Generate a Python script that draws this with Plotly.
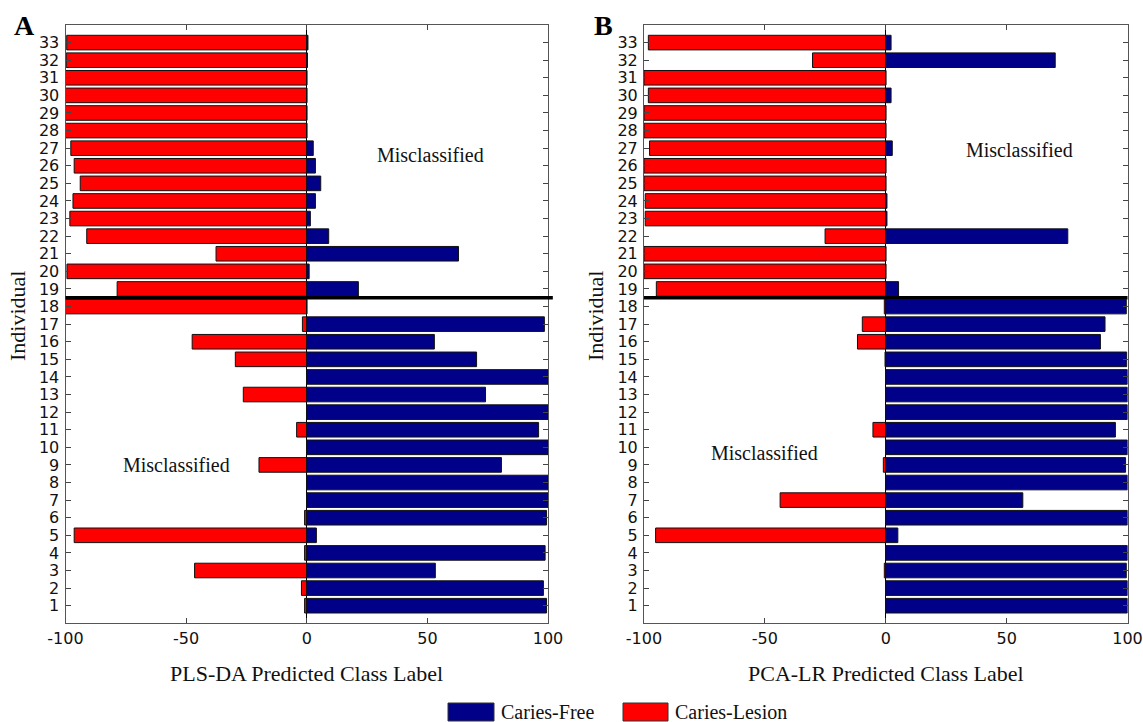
import plotly.graph_objects as go

individuals = list(range(1, 34))

plsda_free = [99.4, 98.1, 53.3, 98.8, 4.0, 99.4, 100, 100, 80.7, 100, 96.1, 100, 74.1, 100, 70.4, 52.9, 98.5,
              0, 21.4, 1.0, 62.9, 9.1, 1.5, 3.6, 5.8, 3.6, 2.7, 0, 0, 0, 0, 0.3, 0.5]
plsda_lesion = [-0.9, -2.2, -46.5, -0.9, -96.4, -0.9, 0, 0, -19.8, 0, -4.2, 0, -26.3, 0, -29.6, -47.5, -1.8,
                -100, -78.6, -99.4, -37.6, -91.2, -98.2, -96.9, -93.9, -96.4, -97.8, -100, -100, -100, -100, -99.7, -99.5]

pcalr_free = [100, 100, 99.5, 100, 5.0, 100, 56.7, 100, 99.2, 100, 95.0, 100, 100, 100, 99.7, 88.8, 90.7,
              99.5, 5.3, 0, 0, 75.3, 0.5, 0.5, 0, 0, 2.7, 0, 0, 2.2, 0, 70.1, 2.2]
pcalr_lesion = [0, 0, -0.6, 0, -95.2, 0, -43.7, 0, -1.0, 0, -5.3, 0, 0, 0, -0.3, -11.7, -9.7,
                -0.6, -94.9, -100, -100, -25.1, -99.5, -99.5, -100, -100, -97.7, -100, -100, -98.2, -100, -30.3, -98.2]

x_ticks = [-100, -50, 0, 50, 100]
x_tick_text = ["-100", "-50", "0", "50", "100"]
series_names = ["Caries-Free", "Caries-Lesion"]
panel_titles = ["PLS-DA Predicted Class Label", "PCA-LR Predicted Class Label"]
panel_letters = ["A", "B"]
y_title = "Individual"
note = "Misclassified"

W, H = 1143, 722
BLUE = "#000088"
RED = "#FF0000"
SERIF = "Liberation Serif"
SANS = "DejaVu Sans"

fig = go.Figure()

for i, (free, lesion) in enumerate([(plsda_free, plsda_lesion), (pcalr_free, pcalr_lesion)]):
    xa = "x" if i == 0 else "x2"
    ya = "y" if i == 0 else "y2"
    fig.add_trace(go.Bar(y=individuals, x=lesion, orientation="h", width=0.83,
                         marker=dict(color=RED, line=dict(color="#111", width=1)),
                         name=series_names[1], showlegend=False, xaxis=xa, yaxis=ya))
    fig.add_trace(go.Bar(y=individuals, x=free, orientation="h", width=0.83,
                         marker=dict(color=BLUE, line=dict(color="#111", width=1)),
                         name=series_names[0], showlegend=False, xaxis=xa, yaxis=ya))

axis_common = dict(showgrid=False, ticks="inside", ticklen=5, tickcolor="#444", automargin=False,
                   showline=True, linecolor="#555", linewidth=1, mirror="ticks",
                   tickfont=dict(family=SANS, size=16, color="#111"))

x_px = [(65.5, 548), (644, 1127.5)]
y_px = (25, 623.3)
y_domain = [(H - y_px[1]) / H, (H - y_px[0]) / H]

for i in range(2):
    sfx = "" if i == 0 else "2"
    dom = [x_px[i][0] / W, x_px[i][1] / W]
    fig.layout["xaxis" + sfx] = dict(axis_common, domain=dom, range=[-100, 100],
                                     tickvals=x_ticks, ticktext=x_tick_text, anchor="y" + sfx,
                                     zeroline=True, zerolinecolor="black", zerolinewidth=1)
    fig.layout["yaxis" + sfx] = dict(axis_common, domain=y_domain, range=[0, 34],
                                     tickvals=individuals, anchor="x" + sfx, zeroline=False,
                                     ticklabelstandoff=2)
    # separator between true classes
    fig.add_shape(type="line", xref=("x" if i == 0 else "x2") + " domain", yref="y" + sfx,
                  x0=0, x1=1.01 if i == 0 else 1.0, y0=18.5, y1=18.5,
                  line=dict(color="black", width=3.5))
    # axis titles
    fig.add_annotation(x=(dom[0] + dom[1]) / 2, y=(H - 673) / H, xref="paper", yref="paper",
                       xanchor="center", yanchor="middle",
                       text=panel_titles[i], showarrow=False,
                       font=dict(family=SERIF, size=22, color="#111"))
    fig.add_annotation(x=(17 + (578 if i else 0)) / W, y=(H - 316) / H, xref="paper", yref="paper",
                       xanchor="center", yanchor="middle",
                       text=y_title, textangle=-90, showarrow=False,
                       font=dict(family=SERIF, size=22, color="#111"))
    fig.add_annotation(x=(24 + (579 if i else 0)) / W, y=(H - 25) / H, xref="paper", yref="paper",
                       xanchor="center", yanchor="middle",
                       text="<b>" + panel_letters[i] + "</b>", showarrow=False,
                       font=dict(family=SERIF, size=28, color="black"))

annots = [
    dict(x=51.5, y=26.6, xref="x", yref="y"),
    dict(x=-53.8, y=9.0, xref="x", yref="y"),
    dict(x=55.5, y=26.9, xref="x2", yref="y2"),
    dict(x=-50, y=9.7, xref="x2", yref="y2"),
]
for a in annots:
    fig.add_annotation(**a, text=note, showarrow=False, xanchor="center", yanchor="middle",
                       font=dict(family=SERIF, size=20, color="#111"))

# legend drawn as boxes + labels
legend_items = [(BLUE, series_names[0], 448, 494), (RED, series_names[1], 623, 668)]
for color, label, x0, x1 in legend_items:
    fig.add_shape(type="rect", xref="paper", yref="paper",
                  x0=x0 / W, x1=x1 / W, y0=(H - 721) / H, y1=(H - 703) / H,
                  fillcolor=color, line=dict(color="#333", width=1))
    fig.add_annotation(x=(x1 + 5) / W, y=(H - 712) / H, xref="paper", yref="paper",
                       text=label, showarrow=False, xanchor="left", yanchor="middle",
                       font=dict(family=SERIF, size=20, color="#111"))

fig.update_layout(width=W, height=H, margin=dict(l=0, r=0, t=0, b=0),
                  plot_bgcolor="white", paper_bgcolor="white", barmode="relative",
                  showlegend=False)

fig.write_html("out.html")
